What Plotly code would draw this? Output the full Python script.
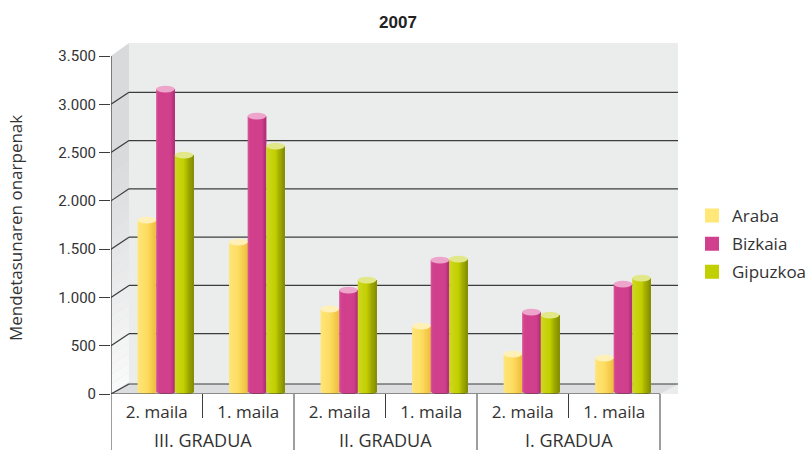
import plotly.graph_objects as go

# ---- data ----
levels = ["2. maila", "1. maila", "2. maila", "1. maila", "2. maila", "1. maila"]
grades = ["III. GRADUA", "II. GRADUA", "I. GRADUA"]
araba = [1800, 1573, 880, 703, 413, 372]
bizkaia = [3157, 2878, 1076, 1386, 848, 1138]
gipuzkoa = [2474, 2567, 1180, 1397, 817, 1200]
y_ticks = [0, 500, 1000, 1500, 2000, 2500, 3000, 3500]

series = [
    ("Araba", araba, "#ffe878", [(0, "#ffe67a"), (0.5, "#fddc60"), (1, "#efbf3e")], "#fff0b8"),
    ("Bizkaia", bizkaia, "#d1408c", [(0, "#d85a9c"), (0.12, "#d1408c"), (0.75, "#d1408c"), (1, "#b03078")], "#eea5cb"),
    ("Gipuzkoa", gipuzkoa, "#c2cf00", [(0, "#cdd820"), (0.5, "#c2cf00"), (0.7, "#a3ae00"), (1, "#838c00")], "#e2e88a"),
]

# ---- geometry of the pseudo-3D frame ----
W, H = 806, 450
LEFT, RIGHT_F, RIGHT_B, TOP_B, BOTTOM = 111, 660, 678, 43, 394
PX_X = (RIGHT_F - LEFT) / 6
PX_Y = (393 - 55) / 3500
DX = 18 / PX_X
DY_GRID = 12 / PX_Y
DY_FLOOR = 10 / PX_Y
X0 = -0.5
X_MAX = X0 + (RIGHT_B - LEFT) / PX_X
Y_MAX = 3500 + 13 / PX_Y
BAR_W = 18.6 / PX_X
GROUP_SHIFT = 8.7 / PX_X
BASE = 30
RY = 3.2 / PX_Y
CAP_RY = 3.4 / PX_Y
N = 14
LINE = "#3c3c3c"
TEXT = "#333333"
FONT = "Open Sans, sans-serif"


def hex2rgb(c):
    return tuple(int(c[i:i + 2], 16) for i in (1, 3, 5))


def ramp(stops, t):
    for (t0, c0), (t1, c1) in zip(stops, stops[1:]):
        if t <= t1:
            f = (t - t0) / (t1 - t0)
            a, b = hex2rgb(c0), hex2rgb(c1)
            return "rgb(%d,%d,%d)" % tuple(round(a[i] + (b[i] - a[i]) * f) for i in range(3))
    return stops[-1][1]


fig = go.Figure()
xs = list(range(6))

for s_i, (name, vals, flat, stops, cap) in enumerate(series):
    left = GROUP_SHIFT + (s_i - 1.5) * BAR_W
    dw = BAR_W / N
    for k in range(N):
        t = (k + 0.5) / N
        u = 2 * t - 1
        drop = RY * (1 - u * u) ** 0.5
        w = dw * 2 if k < N - 1 else dw
        fig.add_trace(go.Bar(
            x=xs, y=[v - BASE + drop for v in vals], base=[BASE - drop] * 6,
            width=w, offset=left + k * dw, marker=dict(color=ramp(stops, t), line=dict(width=0)),
            showlegend=False, hoverinfo="skip"))

for name, vals, flat, stops, cap in series:
    fig.add_trace(go.Scatter(x=[None], y=[None], mode="markers", name=name, legendgroup=name,
                             marker=dict(symbol="square", size=12, color=flat, line=dict(width=4, color=flat))))

shapes = []
# back wall
shapes.append(dict(type="path", xref="x", yref="y", layer="below", line_width=0, fillcolor="#ebeded",
                   path=f"M {X0+DX} 0 L {X_MAX} 0 L {X_MAX} {Y_MAX} L {X0+DX} {Y_MAX} Z"))
# side wall, fading to near-white towards the floor
shapes.append(dict(type="path", xref="x", yref="y", layer="below", line_width=0, fillcolor="#d9dadc",
                   path=f"M {X0} 0 L {X0+DX} {DY_FLOOR} L {X0+DX} {Y_MAX} L {X0} 3500 Z"))
STEPS = 24
FADE_TOP = 2400
for i in range(STEPS):
    v0, v1 = FADE_TOP * i / STEPS, FADE_TOP * (i + 1) / STEPS
    alpha = 0.85 * (1 - (i + 0.5) / STEPS)
    shapes.append(dict(type="path", xref="x", yref="y", layer="below", line_width=0,
                       fillcolor=f"rgba(255,255,255,{alpha:.3f})",
                       path=f"M {X0} {v0} L {X0+DX} {v0+DY_GRID} L {X0+DX} {v1+DY_GRID} L {X0} {v1} Z"))
# floor
shapes.append(dict(type="path", xref="x", yref="y", layer="below", line_width=0, fillcolor="#dcdddf",
                   path=f"M {X0} 0 L {X0+DX} {DY_FLOOR} L {X_MAX} {DY_FLOOR} L {X_MAX - DX} 0 Z"))
# gridlines: diagonal on the side wall, then along the back wall
for v in y_ticks:
    d = DY_FLOOR if v == 0 else DY_GRID
    if v == 3500:
        continue
    shapes.append(dict(type="line", xref="x", yref="y", layer="below", x0=X0, x1=X0 + DX, y0=v, y1=v + d,
                       line=dict(color=LINE, width=1.2)))
    shapes.append(dict(type="line", xref="x", yref="y", layer="below", x0=X0 + DX, x1=X_MAX, y0=v + d, y1=v + d,
                       line=dict(color=LINE, width=1.2)))
# front axis lines
shapes.append(dict(type="line", xref="x", yref="y", x0=X0, x1=X0, y0=0, y1=3500, line=dict(color=LINE, width=1.2)))
shapes.append(dict(type="line", xref="x", yref="y", x0=X0, x1=X_MAX - DX, y0=0, y1=0, line=dict(color=LINE, width=1.2)))
# cylinder caps
for s_i, (name, vals, flat, stops, cap) in enumerate(series):
    left = GROUP_SHIFT + (s_i - 1.5) * BAR_W
    for x, v in zip(xs, vals):
        shapes.append(dict(type="circle", xref="x", yref="y", layer="above", line_width=0, fillcolor=cap,
                           x0=x + left, x1=x + left + BAR_W, y0=v - CAP_RY, y1=v + CAP_RY))
# category dividers
plot_h = BOTTOM - TOP_B
short_bottom = -(418 - BOTTOM) / plot_h
long_bottom = -(452 - BOTTOM) / plot_h
for i in range(7):
    is_group = i % 2 == 0
    shapes.append(dict(type="line", xref="x", yref="paper", x0=i - 0.5, x1=i - 0.5, y0=0,
                       y1=long_bottom if is_group else short_bottom, line=dict(color=LINE, width=1)))

annotations = [dict(text=g, xref="x", yref="paper", x=2 * i + 0.5, y=-(440 - BOTTOM) / plot_h, yanchor="middle",
                    showarrow=False, font=dict(family=FONT, size=18, color=TEXT)) for i, g in enumerate(grades)]
annotations.append(dict(text="Mendetasunaren onarpenak", textangle=-90, xref="paper", yref="paper",
                        x=(15 - LEFT) / (RIGHT_B - LEFT), y=1 - (228 - TOP_B) / plot_h, xanchor="center",
                        yanchor="middle", showarrow=False, font=dict(family=FONT, size=17, color=TEXT)))

fig.update_layout(
    width=W, height=H, autosize=False, template=None,
    margin=dict(l=LEFT, r=W - RIGHT_B, t=TOP_B, b=H - BOTTOM, pad=0, autoexpand=False),
    paper_bgcolor="white", plot_bgcolor="rgba(0,0,0,0)", barmode="overlay", separators=",.",
    font=dict(family=FONT, size=15, color=TEXT),
    title=dict(text="<b>2007</b>", x=398 / W, xanchor="center", y=1 - 22 / H, yanchor="middle",
               font=dict(family="Liberation Sans, Arial, sans-serif", size=17, color="#222222")),
    xaxis=dict(range=[X0, X_MAX], tickvals=xs, ticktext=levels, showgrid=False, zeroline=False, showline=False,
               automargin=False, ticks="", ticklabelstandoff=6, tickfont=dict(family=FONT, size=17, color=TEXT)),
    yaxis=dict(range=[0, Y_MAX], tickvals=y_ticks, tickformat=",d", showgrid=False, zeroline=False, showline=False,
               automargin=False, ticks="outside", ticklen=11, tickcolor=LINE, tickwidth=1.2,
               tickfont=dict(family="Roboto, sans-serif", size=15, color=TEXT)),
    legend=dict(x=(692 - LEFT) / (RIGHT_B - LEFT), y=1 - (198 - TOP_B) / plot_h, xanchor="left", yanchor="top",
                itemsizing="constant", tracegroupgap=3, bgcolor="rgba(0,0,0,0)",
                font=dict(family=FONT, size=17, color=TEXT)),
    shapes=shapes, annotations=annotations,
)
fig.write_html("out.html", config={"displayModeBar": False},
               post_script="document.body.style.margin='0';document.documentElement.style.overflow='hidden';")
